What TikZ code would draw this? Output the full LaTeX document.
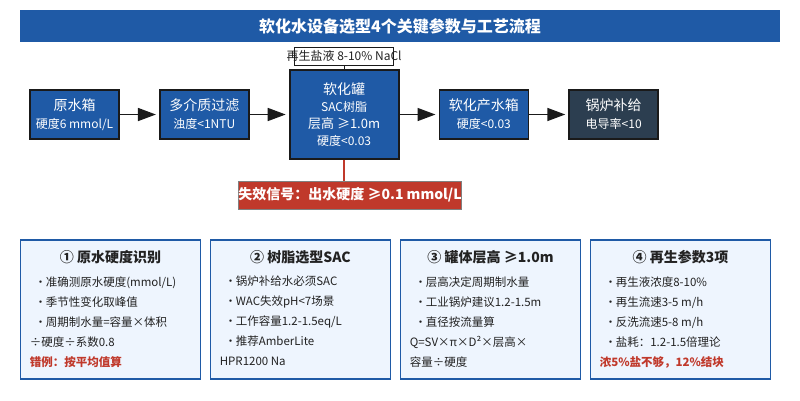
\documentclass[tikz,border=0pt]{standalone}
\usepackage{fontspec}
\setmainfont{Noto Sans CJK SC}
\usetikzlibrary{positioning,arrows.meta}
\definecolor{tankblue}{HTML}{1F5AA6}
\definecolor{boilerdark}{HTML}{2C3E50}
\definecolor{alarmred}{HTML}{C0392B}
\definecolor{cardfill}{HTML}{EEF5FE}
\definecolor{inkdark}{HTML}{1A1A1A}
\definecolor{textdark}{HTML}{222222}
\tikzset{
  stage/.style={draw=inkdark, line width=1.8pt, fill=tankblue, text=white,
    minimum width=89pt, minimum height=49pt, inner sep=0pt, align=center,
    font=\fontsize{14}{18}\selectfont},
  flow/.style={draw=inkdark, line width=1.6pt, shorten >=3pt,
    -{Triangle[length=18pt,width=13pt]}},
  card/.style={draw=tankblue, line width=1.8pt, fill=cardfill,
    minimum width=180pt, minimum height=139pt, inner sep=0pt},
  cardtitle/.style={font=\fontsize{14}{16}\selectfont\bfseries, text=textdark, anchor=north, inner sep=0pt},
  cardbody/.style={font=\fontsize{11.5}{20}\selectfont, text=textdark, align=left,
    anchor=north west, inner sep=0pt}
}
\newcommand{\bpt}{\makebox[16pt][l]{\hspace{5pt}·}}
\newcommand{\sub}[1]{{\fontsize{12}{18}\selectfont #1}}
\newcommand{\warn}[1]{{\color{alarmred}\bfseries #1}}

\begin{document}
\begin{tikzpicture}[x=1pt, y=-1pt, node distance=39pt]
  \useasboundingbox (0,0) rectangle (800,400);

  % banner
  \node[fill=tankblue, minimum width=760pt, minimum height=32pt, inner sep=0pt,
        text=white, font=\fontsize{16}{18}\selectfont\bfseries] (banner) at (400,26)
        {软化水设备选型4个关键参数与工艺流程};

  % process line
  \node[stage] (rawtank) at (74.5,114.5) {原水箱\\\sub{硬度6 mmol/L}};
  \node[stage, right=of rawtank] (filter) {多介质过滤\\\sub{浊度<1NTU}};
  \node[stage, right=of filter, minimum width=109pt, minimum height=89pt,
        font=\fontsize{14}{17}\selectfont] (tank)
        {软化罐\\\sub{SAC树脂}\\{\fontsize{13}{17}\selectfont 层高 ≥1.0m}\\\sub{硬度<0.03}};
  \node[stage, right=of tank] (softtank) {软化产水箱\\\sub{硬度<0.03}};
  \node[stage, right=of softtank, fill=boilerdark] (boiler) {锅炉补给\\\sub{电导率<10}};

  \draw[flow] (rawtank) -- (filter);
  \draw[flow] (filter) -- (tank);
  \draw[flow] (tank) -- (softtank);
  \draw[flow] (softtank) -- (boiler);

  % brine feed
  \node[draw=inkdark, line width=1.5pt, fill=white, minimum width=99pt,
        minimum height=18pt, inner sep=0pt, above=3pt of tank] (brine) {};
  \node[text=textdark, font=\fontsize{12}{14}\selectfont, inner sep=0pt] (brinetext)
        at (brine) {再生盐液 8-10\% NaCl};
  \draw[inkdark, line width=1.2pt] (brine) -- (tank);

  % failure signal
  \node[draw=gray, line width=1pt, fill=alarmred, text=white, minimum width=218pt,
        minimum height=28pt, inner sep=0pt, font=\fontsize{14}{16}\selectfont\bfseries]
        (alarm) at (350,195) {失效信号：出水硬度 ≥0.1 mmol/L};
  \draw[alarmred, line width=1.5pt] (tank) -- (alarm.north -| tank);

  % cards
  \node[card] (card1) at (110.5,309.5) {};
  \node[card, right=8.2pt of card1] (card2) {};
  \node[card, right=8.2pt of card2] (card3) {};
  \node[card, right=8.2pt of card3] (card4) {};

  \node[cardtitle] (card1title) at ([yshift=-11pt]card1.north) {① 原水硬度识别};
  \node[cardbody] (card1body) at ([xshift=10pt,yshift=-37pt]card1.north west)
    {\bpt 准确测原水硬度(mmol/L)\\
     \bpt 季节性变化取峰值\\
     \bpt 周期制水量=容量×体积\\
     ÷硬度÷系数0.8\\
     \warn{错例：按平均值算}};

  \node[cardtitle] (card2title) at ([yshift=-11pt]card2.north) {② 树脂选型SAC};
  \node[cardbody] (card2body) at ([xshift=10pt,yshift=-37pt]card2.north west)
    {\bpt 锅炉补给水必须SAC\\
     \bpt WAC失效pH<7场景\\
     \bpt 工作容量1.2-1.5eq/L\\
     \bpt 推荐AmberLite\\
     HPR1200 Na};

  \node[cardtitle] (card3title) at ([yshift=-11pt]card3.north) {③ 罐体层高 ≥1.0m};
  \node[cardbody] (card3body) at ([xshift=10pt,yshift=-37pt]card3.north west)
    {\bpt 层高决定周期制水量\\
     \bpt 工业锅炉建议1.2-1.5m\\
     \bpt 直径按流量算\\
     Q=SV×π×D²×层高×\\
     容量÷硬度};

  \node[cardtitle] (card4title) at ([yshift=-11pt]card4.north) {④ 再生参数3项};
  \node[cardbody] (card4body) at ([xshift=10pt,yshift=-37pt]card4.north west)
    {\bpt 再生液浓度8-10\%\\
     \bpt 再生流速3-5 m/h\\
     \bpt 反洗流速5-8 m/h\\
     \bpt 盐耗：1.2-1.5倍理论\\
     \warn{浓5\%盐不够，12\%结块}};
\end{tikzpicture}
\end{document}
